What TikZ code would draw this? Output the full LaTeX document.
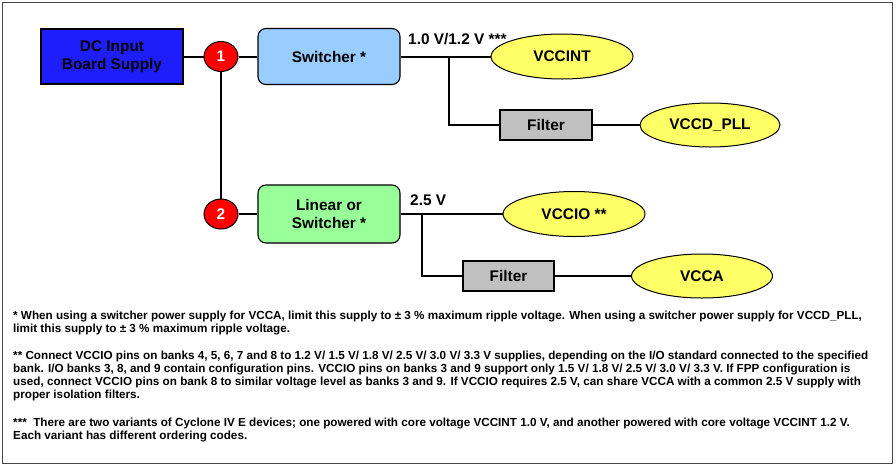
\documentclass[tikz,border=0pt]{standalone}
\usepackage{fontspec}
\setmainfont{Liberation Sans}
\usetikzlibrary{shapes.geometric}
\definecolor{dcblue}{RGB}{30,30,250}
\definecolor{swblue}{RGB}{153,204,255}
\definecolor{lingreen}{RGB}{153,255,153}
\definecolor{railyellow}{RGB}{255,255,102}
\definecolor{filtergray}{RGB}{192,192,192}
\definecolor{framegray}{RGB}{70,70,70}
\tikzset{
  diag/.style={font=\fontsize{15.4}{17.5}\selectfont\bfseries, align=center, inner sep=0pt},
  blockbox/.style={diag, draw=black, line width=1.1pt, rectangle},
  roundbox/.style={blockbox, rounded corners=8pt},
  railoval/.style={diag, draw=black, line width=1pt, ellipse, fill=railyellow},
  junction/.style={ellipse, draw=black, line width=1pt, fill=red, text=white, inner sep=0pt,
     minimum width=34pt, minimum height=30pt, font=\fontsize{15.4}{17}\selectfont\bfseries},
  wire/.style={line width=2pt, draw=black},
  vlabel/.style={font=\fontsize{15.4}{17}\selectfont\bfseries, anchor=base west, inner sep=0pt},
  note/.style={font=\fontsize{11.7}{13}\selectfont\bfseries, anchor=base west, inner sep=0pt}
}
\begin{document}
\begin{tikzpicture}[x=1pt,y=-1pt]
\useasboundingbox (0,0) rectangle (896,466);
\draw[line width=1.3pt, draw=framegray] (2.5,2.5) rectangle (892.5,463.5);

\node[blockbox, fill=dcblue, minimum width=142pt, minimum height=55pt] (dc) at (112,56.5) {DC Input\\Board Supply};
\node[junction] (c1) at (221,56.5) {1};
\node[roundbox, fill=swblue, minimum width=142pt, minimum height=56pt] (sw) at (329,56.5) {Switcher *};
\node[junction] (c2) at (221,214) {2};
\node[roundbox, fill=lingreen, minimum width=142pt, minimum height=58pt] (lin) at (329,214) {Linear or\\Switcher *};

\node[railoval, minimum width=142pt, minimum height=45pt] (vccint) at (562,56.5) {VCCINT};
\node[blockbox, fill=filtergray, minimum width=92pt, minimum height=30pt] (f1) at (546,125) {Filter};
\node[railoval, minimum width=140pt, minimum height=44pt] (pll) at (710,125) {VCCD\_PLL};

\node[railoval, minimum width=142pt, minimum height=45pt] (vccio) at (574,214) {VCCIO **};
\node[blockbox, fill=filtergray, minimum width=91pt, minimum height=30pt] (f2) at (508.5,276) {Filter};
\node[railoval, minimum width=141pt, minimum height=44pt] (vcca) at (702,276) {VCCA};

\coordinate (b1) at (449,56.5);
\coordinate (b2) at (422,214);

\draw[wire] (dc.east) -- (c1.west);
\draw[wire] (c1.east) -- (sw.west);
\draw[wire] (c1.south) -- (c2.north);
\draw[wire] (c2.east) -- (lin.west);
\draw[wire] (sw.east) -- (vccint.west);
\draw[wire] (b1) |- (f1.west);
\draw[wire] (f1.east) -- (pll.west);
\draw[wire] (lin.east) -- (vccio.west);
\draw[wire] (b2) |- (f2.west);
\draw[wire] (f2.east) -- (vcca.west);

\node[vlabel] (l1) at (408,44) {1.0 V/1.2 V ***};
\node[vlabel] (l2) at (410,205) {2.5 V};

\node[note] (n1) at (13,319) {* When using a switcher power supply for VCCA, limit this supply to ± 3 \% maximum ripple voltage. When using a switcher power supply for VCCD\_PLL,};
\node[note] (n2) at (13,332) {limit this supply to ± 3 \% maximum ripple voltage.};
\node[note] (n3) at (13,359) {** Connect VCCIO pins on banks 4, 5, 6, 7 and 8 to 1.2 V/ 1.5 V/ 1.8 V/ 2.5 V/ 3.0 V/ 3.3 V supplies, depending on the I/O standard connected to the specified};
\node[note] (n4) at (13,372) {bank. I/O banks 3, 8, and 9 contain configuration pins. VCCIO pins on banks 3 and 9 support only 1.5 V/ 1.8 V/ 2.5 V/ 3.0 V/ 3.3 V. If FPP configuration is};
\node[note] (n5) at (13,385) {used, connect VCCIO pins on bank 8 to similar voltage level as banks 3 and 9. If VCCIO requires 2.5 V, can share VCCA with a common 2.5 V supply with};
\node[note] (n6) at (13,398) {proper isolation filters.};
\node[note] (n7) at (13,426) {***\ \ There are two variants of Cyclone IV E devices; one powered with core voltage VCCINT 1.0 V, and another powered with core voltage VCCINT 1.2 V.};
\node[note] (n8) at (13,439) {Each variant has different ordering codes.};
\end{tikzpicture}
\end{document}
